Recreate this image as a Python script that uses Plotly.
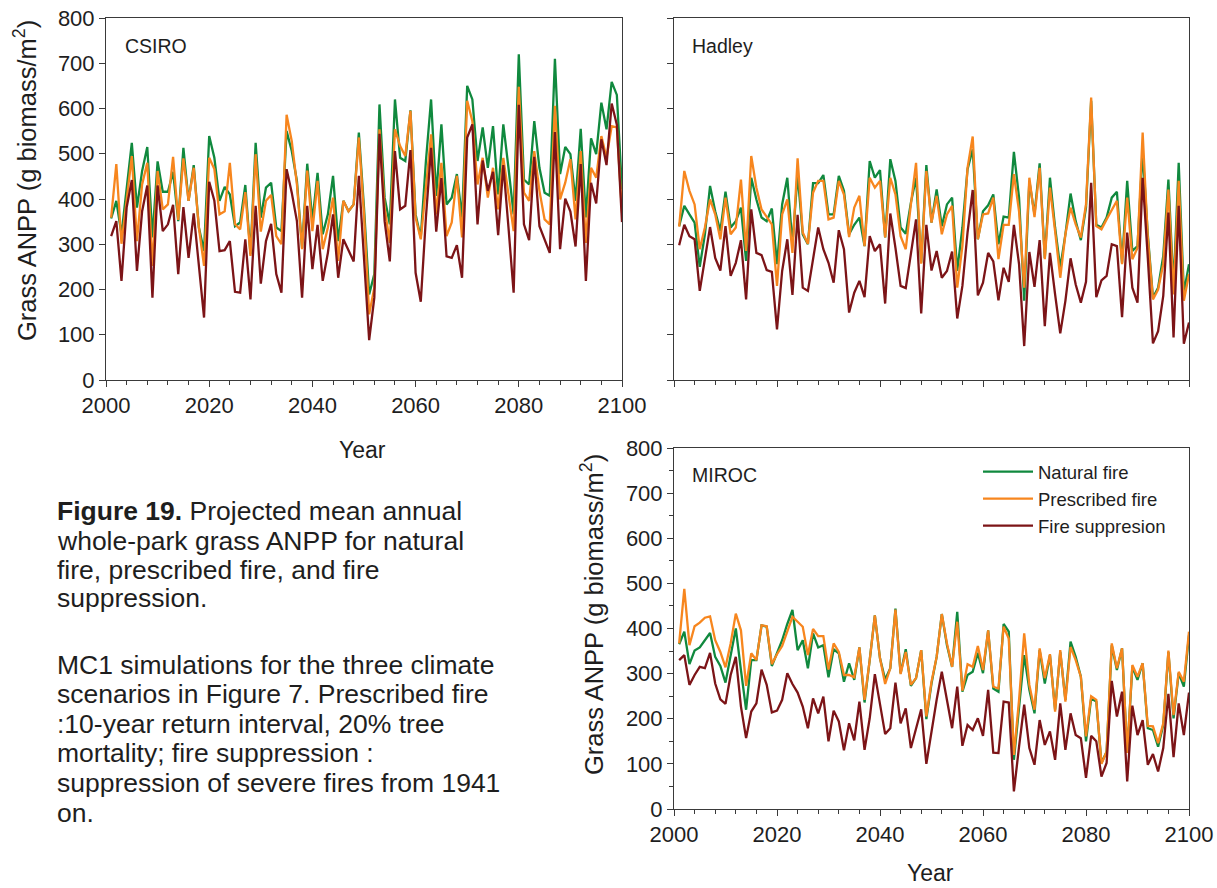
import plotly.graph_objects as go

# ---- data: mean annual whole-park grass ANPP (g biomass/m2), 2001-2100 ----
years = list(range(2001, 2101))

csiro_natural = [
    357, 396, 322, 425, 524, 381, 462, 515, 315, 483,
    416, 416, 460, 351, 513, 396, 475, 337, 285, 539,
    491, 396, 427, 410, 340, 348, 431, 278, 524, 359,
    425, 436, 337, 329, 550, 506, 440, 292, 478, 351,
    458, 322, 366, 451, 307, 396, 373, 388, 547, 381,
    189, 234, 609, 403, 344, 620, 491, 484, 596, 366,
    315, 484, 620, 407, 565, 388, 403, 455, 359, 650,
    620, 484, 558, 469, 561, 410, 565, 469, 366, 720,
    443, 432, 572, 469, 414, 407, 710, 455, 515, 499,
    396, 555, 359, 534, 499, 613, 554, 659, 630, 421,
]
csiro_prescribed = [
    359, 477, 301, 403, 495, 307, 432, 480, 252, 462,
    377, 388, 493, 354, 490, 396, 469, 337, 252, 491,
    466, 366, 373, 480, 344, 333, 415, 274, 499, 328,
    396, 409, 318, 300, 586, 528, 432, 289, 463, 329,
    440, 289, 337, 403, 263, 396, 373, 388, 536, 366,
    145, 204, 554, 381, 303, 554, 517, 495, 595, 359,
    311, 425, 543, 366, 480, 318, 348, 451, 315, 617,
    572, 432, 491, 403, 469, 377, 491, 410, 329, 648,
    414, 396, 506, 418, 355, 344, 606, 399, 436, 488,
    355, 506, 303, 469, 447, 539, 491, 561, 558, 370,
]
csiro_suppression = [
    318, 351, 219, 381, 442, 241, 373, 430, 182, 430,
    329, 344, 387, 234, 382, 270, 368, 256, 138, 438,
    396, 285, 287, 307, 195, 193, 311, 178, 385, 213,
    307, 345, 234, 193, 466, 414, 351, 182, 385, 245,
    343, 219, 281, 366, 226, 311, 285, 262, 451, 278,
    88, 182, 544, 351, 262, 506, 377, 385, 508, 237,
    173, 359, 513, 328, 446, 273, 270, 298, 226, 536,
    565, 344, 485, 418, 460, 320, 475, 337, 193, 608,
    344, 309, 493, 340, 311, 281, 548, 289, 401, 372,
    295, 477, 219, 436, 390, 532, 475, 611, 564, 349,
]

hadley_natural = [
    340, 385, 366, 348, 250, 322, 429, 373, 329, 416,
    337, 351, 381, 263, 447, 399, 359, 351, 379, 256,
    388, 447, 300, 455, 322, 300, 435, 435, 453, 366,
    366, 451, 418, 322, 343, 359, 296, 484, 447, 464,
    315, 488, 440, 337, 323, 392, 447, 259, 475, 348,
    421, 340, 388, 403, 241, 337, 466, 510, 311, 373,
    386, 410, 300, 361, 359, 504, 403, 175, 440, 366,
    479, 270, 447, 337, 248, 322, 412, 351, 309, 381,
    617, 343, 337, 359, 403, 416, 259, 440, 285, 296,
    506, 322, 182, 204, 274, 443, 204, 480, 193, 256,
]
hadley_prescribed = [
    339, 462, 418, 388, 289, 337, 399, 366, 311, 403,
    322, 337, 443, 285, 495, 425, 377, 359, 344, 208,
    366, 399, 281, 490, 326, 301, 414, 440, 440, 355,
    359, 440, 410, 316, 381, 407, 296, 447, 425, 440,
    315, 447, 410, 318, 289, 388, 480, 257, 462, 348,
    407, 322, 366, 385, 204, 296, 469, 538, 311, 366,
    368, 403, 267, 343, 343, 455, 373, 204, 447, 360,
    469, 267, 425, 329, 226, 322, 381, 344, 315, 388,
    624, 340, 333, 355, 377, 396, 256, 403, 267, 292,
    547, 315, 178, 200, 256, 421, 189, 440, 175, 234,
]
hadley_suppression = [
    298, 343, 318, 311, 197, 267, 338, 270, 242, 340,
    230, 259, 309, 178, 377, 281, 276, 243, 239, 112,
    241, 311, 188, 365, 204, 197, 270, 337, 289, 259,
    215, 331, 289, 149, 193, 219, 183, 318, 285, 300,
    169, 368, 292, 208, 203, 281, 355, 147, 343, 242,
    285, 226, 241, 284, 136, 208, 326, 420, 187, 215,
    281, 262, 176, 248, 217, 343, 256, 75, 283, 206,
    309, 119, 281, 189, 103, 175, 269, 211, 171, 217,
    436, 183, 220, 230, 300, 296, 139, 326, 204, 171,
    447, 270, 81, 108, 186, 370, 94, 385, 80, 127,
]

miroc_natural = [
    365, 393, 321, 351, 358, 374, 390, 337, 317, 280,
    337, 400, 308, 220, 330, 330, 407, 404, 317, 345,
    374, 410, 441, 352, 374, 312, 389, 358, 363, 292,
    354, 345, 282, 323, 286, 358, 236, 330, 429, 334,
    287, 312, 444, 301, 354, 273, 290, 352, 199, 278,
    337, 432, 363, 315, 437, 260, 297, 304, 346, 301,
    396, 267, 260, 410, 393, 109, 227, 341, 264, 212,
    352, 278, 341, 220, 348, 242, 371, 337, 293, 150,
    245, 238, 102, 127, 363, 308, 356, 124, 315, 286,
    323, 179, 175, 138, 186, 348, 201, 301, 271, 385,
]
miroc_prescribed = [
    367, 488, 363, 405, 413, 424, 427, 374, 348, 314,
    367, 433, 396, 273, 345, 330, 407, 405, 321, 343,
    361, 393, 426, 415, 404, 341, 399, 383, 383, 309,
    367, 348, 297, 297, 292, 358, 242, 330, 429, 334,
    277, 312, 442, 299, 348, 275, 290, 352, 205, 282,
    337, 432, 367, 315, 415, 262, 321, 315, 361, 308,
    396, 271, 267, 404, 378, 120, 242, 389, 275, 220,
    356, 290, 343, 216, 352, 238, 359, 330, 293, 161,
    250, 242, 100, 127, 367, 312, 356, 124, 319, 293,
    323, 184, 183, 146, 190, 351, 208, 304, 282, 393,
]
miroc_suppression = [
    330, 341, 275, 297, 315, 312, 346, 278, 243, 233,
    297, 337, 227, 157, 216, 234, 309, 275, 214, 218,
    242, 301, 277, 258, 227, 179, 245, 212, 249, 150,
    218, 194, 130, 190, 152, 238, 131, 201, 299, 233,
    166, 179, 280, 190, 223, 135, 175, 221, 100, 172,
    242, 304, 242, 179, 271, 140, 186, 175, 201, 162,
    264, 125, 124, 238, 236, 39, 138, 231, 135, 98,
    197, 142, 172, 109, 234, 131, 212, 164, 157, 69,
    162, 150, 72, 102, 284, 205, 260, 61, 229, 164,
    197, 98, 122, 83, 135, 255, 115, 234, 164, 258,
]

series_names = ["Natural fire", "Prescribed fire", "Fire suppresion"]
series_colors = ["#10893e", "#f7861e", "#7c1417"]

panels = [
    ("CSIRO", "x", "y", [csiro_natural, csiro_prescribed, csiro_suppression]),
    ("Hadley", "x2", "y2", [hadley_natural, hadley_prescribed, hadley_suppression]),
    ("MIROC", "x3", "y3", [miroc_natural, miroc_prescribed, miroc_suppression]),
]

W, H = 1217, 888
FONT = "Liberation Sans, Arial, Helvetica, sans-serif"
AX = "#3a3a3a"
TXT = "#1e1e1e"


def px(x):
    return x / W


def py(y):
    return 1 - y / H


fig = go.Figure()
for name, xa, ya, values in panels:
    for sname, color, vals in zip(series_names, series_colors, values):
        fig.add_trace(go.Scatter(
            x=years, y=vals, mode="lines", name=sname,
            line=dict(color=color, width=2.3),
            xaxis=xa, yaxis=ya,
            showlegend=(name == "MIROC"),
        ))

x_common = dict(
    range=[2000, 2100], tick0=2000, dtick=20, showline=True, linecolor=AX,
    linewidth=1, mirror=True, ticks="outside", ticklen=6, tickcolor=AX,
    showgrid=False, zeroline=False, automargin=False,
    tickfont=dict(family=FONT, size=22, color=TXT),
    minor=dict(dtick=4, ticks="outside", ticklen=4, tickcolor=AX, showgrid=False),
)
y_common = dict(
    range=[0, 800], tick0=0, dtick=100, showline=True, linecolor=AX,
    linewidth=1, mirror=True, ticks="outside", ticklen=6, tickcolor=AX,
    showgrid=False, zeroline=False, automargin=False,
    tickfont=dict(family=FONT, size=22, color=TXT),
)

fig.update_layout(
    width=W, height=H,
    margin=dict(l=0, r=0, t=0, b=0, pad=0, autoexpand=False),
    paper_bgcolor="white", plot_bgcolor="white",
    font=dict(family=FONT, color=TXT),
    xaxis=dict(domain=[px(106), px(622)], anchor="y", **x_common),
    yaxis=dict(domain=[py(380), py(18)], anchor="x", **y_common),
    xaxis2=dict(domain=[px(674), px(1189)], anchor="y2", showticklabels=False, **x_common),
    yaxis2=dict(domain=[py(380), py(18)], anchor="x2", showticklabels=False, **y_common),
    xaxis3=dict(domain=[px(674), px(1189)], anchor="y3", **x_common),
    yaxis3=dict(domain=[py(809), py(448)], anchor="x3",
                minor=dict(dtick=50, ticks="outside", ticklen=4, tickcolor=AX, showgrid=False),
                **y_common),
    legend=dict(
        x=px(978), y=py(453), xanchor="left", yanchor="top",
        font=dict(family=FONT, size=18.5, color=TXT),
        bgcolor="rgba(0,0,0,0)", itemwidth=50, tracegroupgap=0,
    ),
)

ann = []
ytitle = "Grass ANPP (g biomass/m<sup>2</sup>)"
for tx, ty in [(25, 181), (592, 615)]:
    ann.append(dict(x=px(tx), y=py(ty), text=ytitle, textangle=-90, showarrow=False,
                    xanchor="center", yanchor="middle", xref="paper", yref="paper",
                    font=dict(size=25.5, family=FONT, color=TXT)))
for tx, ty in [(362, 450), (930, 873)]:
    ann.append(dict(x=px(tx), y=py(ty), text="Year", showarrow=False,
                    xanchor="center", yanchor="middle", xref="paper", yref="paper",
                    font=dict(size=23, family=FONT, color=TXT)))

for label, lx, ly in [("CSIRO", 123, 46), ("Hadley", 690, 46), ("MIROC", 690, 475)]:
    ann.append(dict(x=px(lx), y=py(ly), text=label, showarrow=False, xanchor="left",
                    yanchor="middle", xref="paper", yref="paper",
                    font=dict(size=19.5, family=FONT, color=TXT)))

caption_lines = [
    ("<b>Figure 19.</b> Projected mean annual", 511),
    ("whole-park grass ANPP for natural", 541),
    ("fire, prescribed fire, and fire", 570),
    ("suppression.", 598),
    ("MC1 simulations for the three climate", 665),
    ("scenarios in Figure 7. Prescribed fire", 694),
    (":10-year return interval, 20% tree", 724),
    ("mortality; fire suppression :", 753),
    ("suppression of severe fires from 1941", 783),
    ("on.", 813),
]
for text, ly in caption_lines:
    ann.append(dict(x=px(55), y=py(ly), text=text, showarrow=False, xanchor="left",
                    yanchor="middle", xref="paper", yref="paper",
                    font=dict(size=26.5, family=FONT, color=TXT)))

fig.update_layout(annotations=ann)
fig.write_html("out.html")
